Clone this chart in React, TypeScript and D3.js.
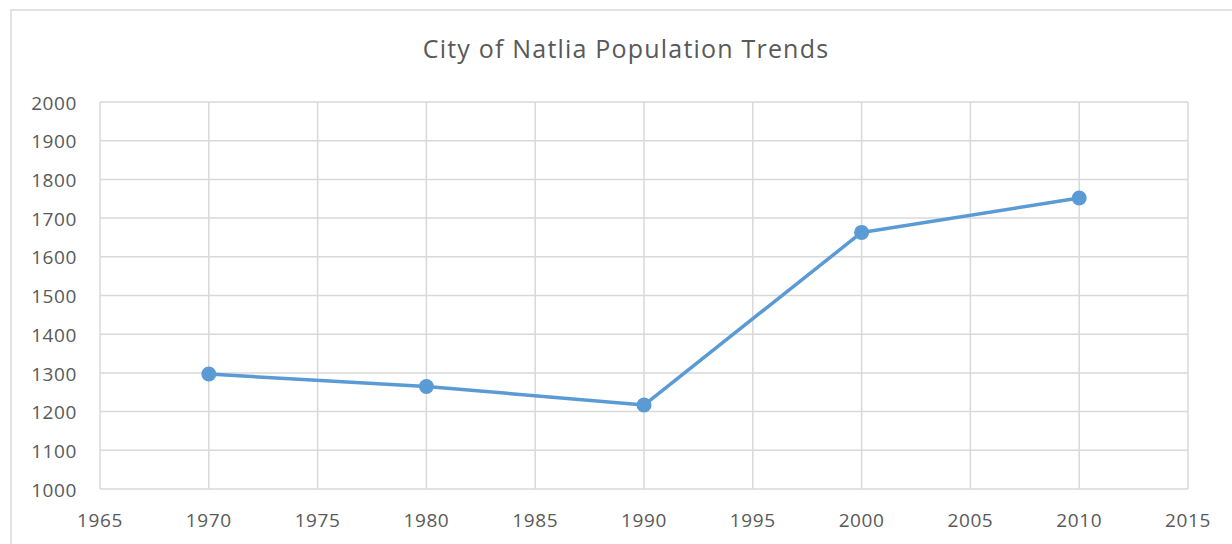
import React from "react";
import * as d3 from "d3";

const years = [1970, 1980, 1990, 2000, 2010];
const population = [1297, 1265, 1217, 1663, 1752];
const xTicks = [1965, 1970, 1975, 1980, 1985, 1990, 1995, 2000, 2005, 2010, 2015];
const yTicks = [1000, 1100, 1200, 1300, 1400, 1500, 1600, 1700, 1800, 1900, 2000];
const title = "City of Natlia Population Trends";

export default function App() {
  const W = 1232, H = 544;
  const left = 100, right = 1188, top = 102, bottom = 489;
  const x = d3.scaleLinear().domain([1965, 2015]).range([left, right]);
  const y = d3.scaleLinear().domain([1000, 2000]).range([bottom, top]);
  const line = d3.line<number>().x((_, i) => x(years[i])).y((d) => y(d));
  const font = "'Open Sans', sans-serif";
  const grid = "#d9d9d9";
  const textCol = "#595959";
  return (
    <svg width={W} height={H} style={{ position: "absolute", left: 0, top: 0, background: "#fff" }}>
      <rect x={11} y={10} width={1260} height={600} fill="#fff" stroke={grid} strokeWidth={1.5} />
      <text x={626} y={58} textAnchor="middle" fontFamily={font} fontSize={25} letterSpacing={1.2} fill={textCol}>{title}</text>
      {yTicks.map((t) => (
        <line key={"h" + t} x1={left} x2={right} y1={y(t)} y2={y(t)} stroke={grid} strokeWidth={1.5} />
      ))}
      {xTicks.map((t) => (
        <line key={"v" + t} x1={x(t)} x2={x(t)} y1={top} y2={bottom} stroke={grid} strokeWidth={1.5} />
      ))}
      {yTicks.map((t) => (
        <text key={"yl" + t} x={77} y={y(t) + 1} dy="0.35em" textAnchor="end" fontFamily={font} fontSize={19} letterSpacing={0.6} fill={textCol}>{t}</text>
      ))}
      {xTicks.map((t) => (
        <text key={"xl" + t} x={x(t)} y={527} textAnchor="middle" fontFamily={font} fontSize={19} letterSpacing={0.6} fill={textCol}>{t}</text>
      ))}
      <path d={line(population) || ""} fill="none" stroke="#5b9bd5" strokeWidth={3.5} strokeLinejoin="round" strokeLinecap="round" />
      {population.map((v, i) => (
        <circle key={"c" + i} cx={x(years[i])} cy={y(v)} r={7.5} fill="#5b9bd5" />
      ))}
    </svg>
  );
}
